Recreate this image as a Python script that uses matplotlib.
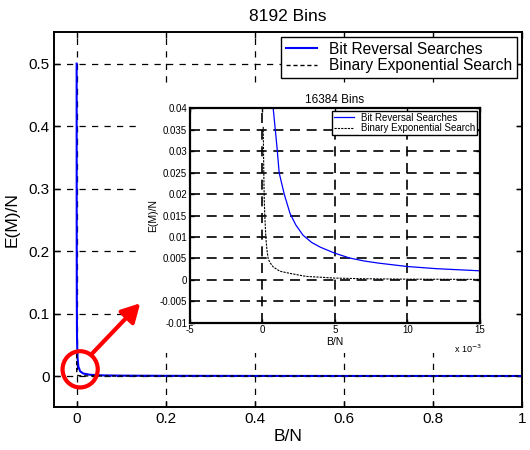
import matplotlib.pyplot as plt
from matplotlib.patches import Ellipse, Rectangle
from matplotlib.ticker import FuncFormatter

plt.rcParams['font.family'] = ['Liberation Sans', 'DejaVu Sans']

# main plot: 8192 bins
main_x = [0.000122, 0.00025, 0.0005, 0.001, 0.002, 0.004, 0.008, 0.015,
          0.03, 0.06, 0.1, 0.2, 0.4, 0.6, 0.8, 1.0]
main_bit_rev = [0.5, 0.24, 0.12, 0.06, 0.03, 0.015, 0.0075, 0.004,
                0.002, 0.001, 0.0006, 0.0003, 0.00015, 0.0001, 0.00008, 0.00006]
main_bin_exp = [0.035, 0.012, 0.006, 0.003, 0.0015, 0.0008, 0.0004, 0.0002,
                0.0001, 0.00006, 0.00004, 0.00002, 0.00001, 0.00001, 0.00001, 0.00001]

# inset: 16384 bins
inset_bit_rev_x = [0.0005, 0.00074, 0.001, 0.00115, 0.0015, 0.0019, 0.0023, 0.0028,
                   0.0034, 0.004, 0.005, 0.006, 0.007, 0.008, 0.01, 0.012, 0.015]
inset_bit_rev = [0.06, 0.04, 0.031, 0.025, 0.020, 0.0155, 0.0128, 0.0104,
                 0.0087, 0.0076, 0.0062, 0.0051, 0.0044, 0.0039, 0.0031, 0.0026, 0.0021]
inset_bin_exp_x = [0.00005, 0.00007, 0.00009, 0.00012, 0.00016, 0.00023, 0.0003, 0.00039,
                   0.0005, 0.00074, 0.0012, 0.0019, 0.003, 0.005, 0.007, 0.01, 0.015]
inset_bin_exp = [0.0357, 0.030, 0.025, 0.019, 0.015, 0.010, 0.0072, 0.005,
                 0.0041, 0.003, 0.002, 0.0015, 0.0008, 0.0004, 0.00025, 0.00015, 0.0001]

main_xticks = [0, 0.2, 0.4, 0.6, 0.8, 1]
main_yticks = [0, 0.1, 0.2, 0.3, 0.4, 0.5]
inset_xticks = [-0.005, 0, 0.005, 0.01, 0.015]
inset_yticks = [-0.01, -0.005, 0, 0.005, 0.01, 0.015, 0.02, 0.025, 0.03, 0.035, 0.04]

fig = plt.figure(figsize=(5.3, 4.5), dpi=100)
ax = fig.add_axes([0.1025, 0.095, 0.882, 0.833])
ax.plot(main_x, main_bit_rev, color='#0000ff', linewidth=1.5, label='Bit Reversal Searches')
ax.plot(main_x, main_bin_exp, color='k', linestyle=(0, (3, 2)), linewidth=1.0,
        label='Binary Exponential Search')
ax.set_xlim(-0.05, 1)
ax.set_ylim(-0.05, 0.55)
ax.set_xticks(main_xticks)
ax.set_xticklabels(['0', '0.2', '0.4', '0.6', '0.8', '1'])
ax.set_yticks(main_yticks)
ax.set_yticklabels(['0', '0.1', '0.2', '0.3', '0.4', '0.5'])
ax.grid(True, color='k', linestyle=(0, (5, 5)), linewidth=0.9)
ax.set_axisbelow(True)
ax.tick_params(direction='in', top=True, right=True, labelsize=11, length=4, width=1)
for s in ax.spines.values():
    s.set_linewidth(1.4)
ax.set_title('8192 Bins', fontsize=12.5, pad=8)
ax.set_xlabel('B/N', fontsize=12.5, labelpad=2)
ax.set_ylabel('E(M)/N', fontsize=12.5, labelpad=6)
leg = ax.legend(loc='upper right', fontsize=11.2, fancybox=False, framealpha=1,
                edgecolor='k', borderaxespad=0.3, handlelength=2.0, borderpad=0.3,
                labelspacing=0.1, handletextpad=0.8)
leg.get_frame().set_linewidth(1.0)

# white backing of the pasted inset picture (hides the main grid there)
ax.add_patch(Rectangle((0.264, 0.2156), 0.708, 0.5954, transform=fig.transFigure,
                       facecolor='white', edgecolor='none', zorder=2.5))

# red highlight circle and arrow
ax.add_patch(Ellipse((0.008, 0.0107), 0.079, 0.058, fill=False, edgecolor='#ff0000',
                     linewidth=3, zorder=5))
ax.annotate('', xy=(0.143, 0.1165), xytext=(0.035, 0.036),
            arrowprops=dict(arrowstyle='-|>,head_length=1.1,head_width=0.6',
                            color='#ff0000', linewidth=3, shrinkA=0, shrinkB=0),
            zorder=5)

# inset
ax_in = fig.add_axes([0.3585, 0.283, 0.547, 0.476])
ax_in.plot(inset_bit_rev_x, inset_bit_rev, color='#0000ff', linewidth=0.9,
           label='Bit Reversal Searches')
ax_in.plot(inset_bin_exp_x, inset_bin_exp, color='k', linestyle=(0, (2, 1)), linewidth=0.8,
           label='Binary Exponential Search')
ax_in.set_xlim(-0.005, 0.015)
ax_in.set_ylim(-0.01, 0.04)
ax_in.set_xticks(inset_xticks)
ax_in.xaxis.set_major_formatter(FuncFormatter(lambda v, p: '%g' % round(v * 1000, 6)))
ax_in.set_yticks(inset_yticks)
ax_in.yaxis.set_major_formatter(FuncFormatter(lambda v, p: '%g' % round(v, 6)))
ax_in.grid(True, color='k', linestyle=(0, (6, 4)), linewidth=1.2)
ax_in.set_axisbelow(True)
ax_in.tick_params(direction='in', top=True, right=True, labelsize=7, length=3, width=1,
                  pad=2)
for s in ax_in.spines.values():
    s.set_linewidth(1.6)
ax_in.set_title('16384 Bins', fontsize=8.5, pad=4)
ax_in.set_xlabel('B/N', fontsize=7.5, labelpad=1)
ax_in.set_ylabel('E(M)/N', fontsize=7.5, labelpad=1)
ax_in.text(0.96, -0.12, r'x 10$^{-3}$', transform=ax_in.transAxes, fontsize=6.5,
           ha='center', va='center')
leg_in = ax_in.legend(loc='upper right', fontsize=7, fancybox=False, framealpha=1,
                      edgecolor='k', borderaxespad=0.25, handlelength=2.0, borderpad=0.2,
                      labelspacing=0.05, handletextpad=0.8)
leg_in.get_frame().set_linewidth(1.0)

fig.savefig('out.png', dpi=100)
